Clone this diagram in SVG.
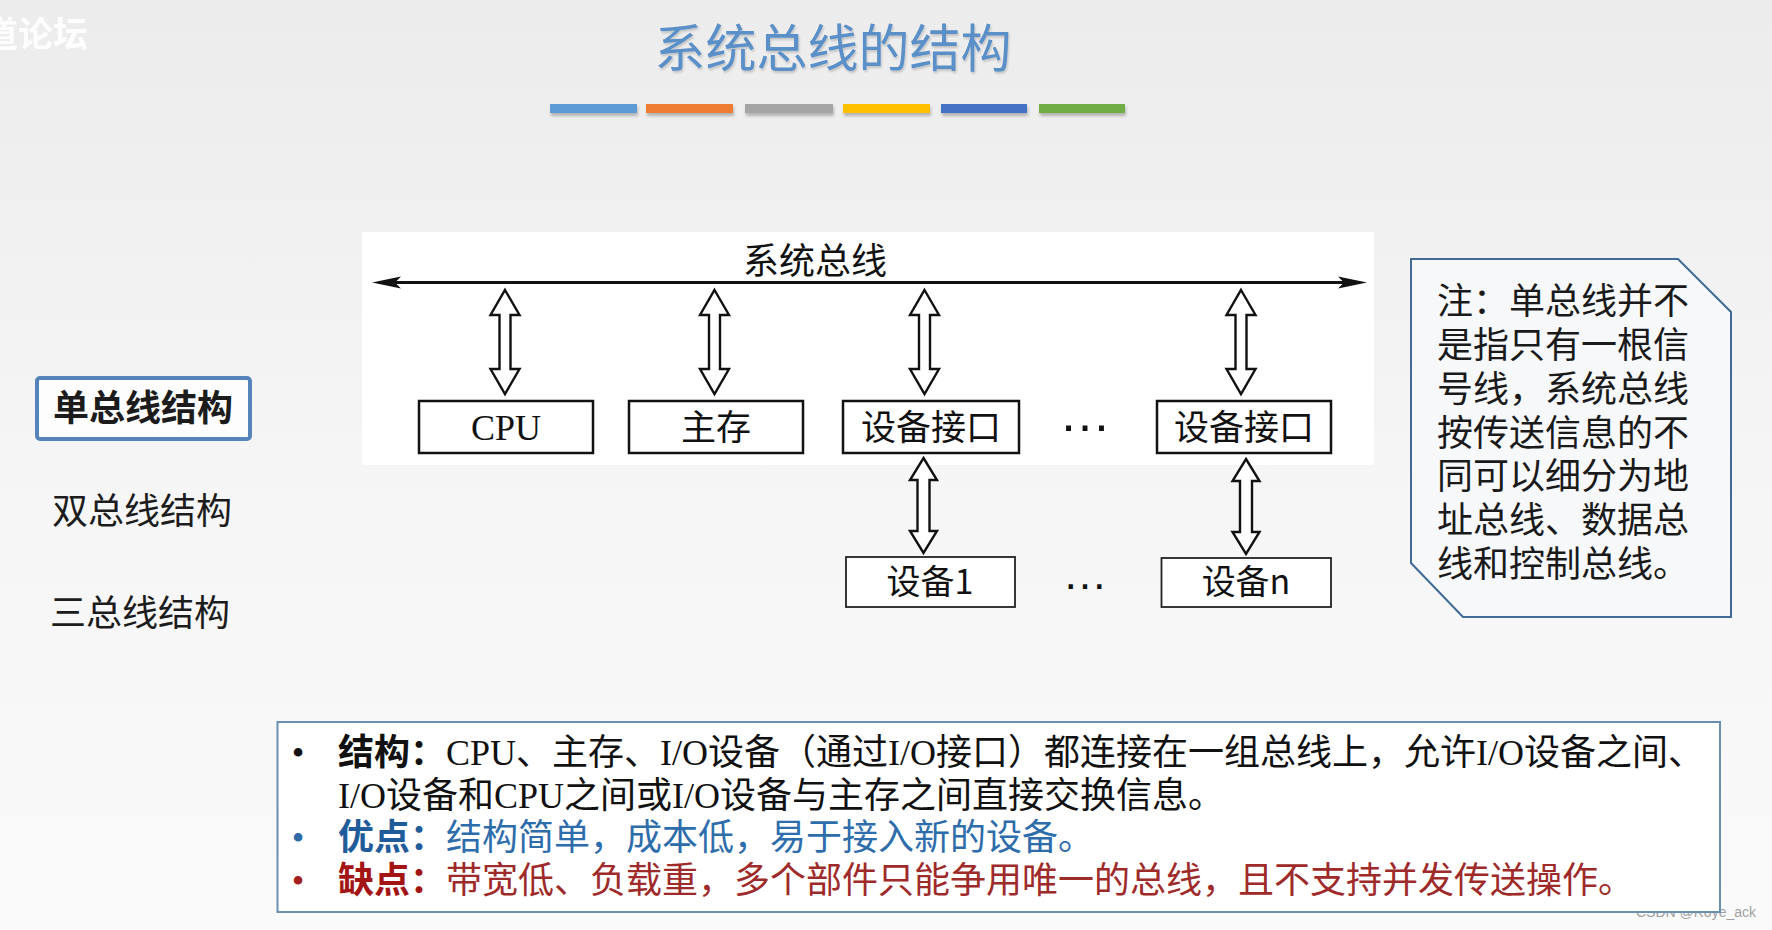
<svg xmlns="http://www.w3.org/2000/svg" width="1772" height="930" viewBox="0 0 1772 930">
<defs>
<linearGradient id="bg" x1="0" y1="0" x2="0" y2="1">
<stop offset="0" stop-color="#ececec"/>
<stop offset="0.55" stop-color="#f6f6f6"/>
<stop offset="1" stop-color="#fafafa"/>
</linearGradient>
<filter id="sh" x="-10%" y="-40%" width="120%" height="200%">
<feDropShadow dx="1" dy="3" stdDeviation="1.5" flood-color="#000" flood-opacity="0.25"/>
</filter>
<filter id="tsh" x="-5%" y="-20%" width="110%" height="140%">
<feDropShadow dx="1" dy="2" stdDeviation="1" flood-color="#000" flood-opacity="0.18"/>
</filter>
<path id="dblTop" d="M0,0 L14.5,25 L5.5,25 L5.5,79 L14.5,79 L0,104 L-14.5,79 L-5.5,79 L-5.5,25 L-14.5,25 Z"/>
<path id="dblLow" d="M0,0 L13.5,22 L6,22 L6,73 L13.5,73 L0,95 L-13.5,73 L-6,73 L-6,22 L-13.5,22 Z"/>
</defs>
<style>
.cjk{font-family:"Noto Sans CJK SC","Noto Sans",sans-serif}
.ser{font-family:"Liberation Serif","Noto Sans CJK SC",serif}
.lat{font-family:"Liberation Sans",Arial,sans-serif}
.box{fill:#ffffff;stroke:#111;stroke-width:2.5}
.box2{fill:#ffffff;stroke:#222;stroke-width:1.8}
.lbl{font-size:35px;fill:#111;text-anchor:middle}
.arr{fill:#ffffff;stroke:#111;stroke-width:2.4;stroke-linejoin:miter}
.menu{font-size:36px;fill:#1c1c1c}
.desc{font-size:36px}
</style>
<rect x="0" y="0" width="1772" height="930" fill="url(#bg)"/>

<g id="watermark">
<text class="cjk" x="-17" y="47" font-size="35" font-weight="bold" fill="#ffffff" opacity="0.9">道论坛</text>
<text class="lat" x="1756" y="917" font-size="14" fill="#a0a0a0" text-anchor="end">CSDN @Roye_ack</text>
</g>

<g id="title">
<text class="cjk" x="833" y="67" font-size="51" fill="#5a8fc8" text-anchor="middle" filter="url(#tsh)">系统总线的结构</text>
<g filter="url(#sh)">
<rect x="550" y="104" width="87" height="9" fill="#5b9bd5"/>
<rect x="646" y="104" width="87" height="9" fill="#ed7d31"/>
<rect x="745" y="104" width="88" height="9" fill="#a5a5a5"/>
<rect x="843" y="104" width="87" height="9" fill="#ffc000"/>
<rect x="941" y="104" width="86" height="9" fill="#4472c4"/>
<rect x="1039" y="104" width="86" height="9" fill="#70ad47"/>
</g>
</g>

<g id="menu">
<rect x="37" y="378" width="213" height="61" rx="3" fill="#fdfdfd" stroke="#5584bb" stroke-width="4"/>
<text class="cjk menu" x="53" y="421" font-weight="bold">单总线结构</text>
<text class="cjk menu" x="52" y="524">双总线结构</text>
<text class="cjk menu" x="50" y="626">三总线结构</text>
</g>

<rect id="panel" x="362" y="232" width="1012" height="233" fill="#ffffff"/>

<g id="bus-label">
<text class="cjk" x="815" y="274" font-size="36" fill="#111" text-anchor="middle">系统总线</text>
</g>

<g id="connectors">
<line x1="385" y1="282.5" x2="1354" y2="282.5" stroke="#111" stroke-width="3"/>
<path d="M372,282.5 L401,276.5 L395,282.5 L401,288.5 Z" fill="#111"/>
<path d="M1367,282.5 L1338,276.5 L1344,282.5 L1338,288.5 Z" fill="#111"/>
<use href="#dblTop" class="arr" transform="translate(505,290)"/>
<use href="#dblTop" class="arr" transform="translate(714.5,290)"/>
<use href="#dblTop" class="arr" transform="translate(924.5,290)"/>
<use href="#dblTop" class="arr" transform="translate(1241,290)"/>
<use href="#dblLow" class="arr" transform="translate(923.5,458)"/>
<use href="#dblLow" class="arr" transform="translate(1246,459)"/>
</g>

<g id="node-cpu">
<rect class="box" x="419" y="401" width="174" height="52"/>
<text class="ser" x="506" y="440" font-size="36" fill="#111" text-anchor="middle">CPU</text>
</g>
<g id="node-mem">
<rect class="box" x="629" y="401" width="174" height="52"/>
<text class="cjk lbl" x="716" y="440">主存</text>
</g>
<g id="node-if1">
<rect class="box" x="843" y="401" width="176" height="52"/>
<text class="cjk lbl" x="931" y="440">设备接口</text>
</g>
<g id="dots-top">
<text class="lat" x="1085" y="431" font-size="52" fill="#111" text-anchor="middle">…</text>
</g>
<g id="node-if2">
<rect class="box" x="1157" y="401" width="174" height="52"/>
<text class="cjk lbl" x="1244" y="440">设备接口</text>
</g>
<g id="node-dev1">
<rect class="box2" x="846" y="557" width="169" height="50"/>
<text class="cjk" x="930" y="594" font-size="34" fill="#111" text-anchor="middle">设备1</text>
</g>
<g id="dots-low">
<text class="lat" x="1085" y="589" font-size="45" fill="#111" text-anchor="middle">…</text>
</g>
<g id="node-devn">
<rect class="box2" x="1161.5" y="558" width="169.5" height="49"/>
<text class="cjk" x="1246" y="594" font-size="34" fill="#111" text-anchor="middle">设备n</text>
</g>

<g id="note">
<polygon points="1411,259 1678,259 1731,312 1731,617 1463,617 1411,563" fill="#f7f8fa" stroke="#3f6b95" stroke-width="2"/>
<text class="cjk" font-size="36" fill="#1a1a1a">
<tspan x="1437" y="314">注：单总线并不</tspan>
<tspan x="1437" y="358">是指只有一根信</tspan>
<tspan x="1437" y="402">号线，系统总线</tspan>
<tspan x="1437" y="446">按传送信息的不</tspan>
<tspan x="1437" y="489">同可以细分为地</tspan>
<tspan x="1437" y="533">址总线、数据总</tspan>
<tspan x="1437" y="577">线和控制总线。</tspan>
</text>
</g>

<g id="desc">
<rect x="277.5" y="722" width="1442.5" height="190" fill="#ffffff" stroke="#6a8fb0" stroke-width="2"/>
<text class="ser" x="298" y="765" font-size="36" fill="#111" text-anchor="middle">•</text>
<text class="ser" x="298" y="850" font-size="36" fill="#2d6aa6" text-anchor="middle">•</text>
<text class="ser" x="298" y="893" font-size="36" fill="#a3201f" text-anchor="middle">•</text>
<text class="ser desc" x="338" y="765" fill="#111"><tspan font-weight="bold">结构：</tspan>CPU、主存、I/O设备（通过I/O接口）都连接在一组总线上，允许I/O设备之间、</text>
<text class="ser desc" x="338" y="808" fill="#111">I/O设备和CPU之间或I/O设备与主存之间直接交换信息。</text>
<text class="ser desc" x="338" y="850" fill="#2e6dab"><tspan font-weight="bold" fill="#1f5c99">优点：</tspan>结构简单，成本低，易于接入新的设备。</text>
<text class="ser desc" x="338" y="893" fill="#9e2a2a"><tspan font-weight="bold" fill="#a31515">缺点：</tspan>带宽低、负载重，多个部件只能争用唯一的总线，且不支持并发传送操作。</text>
</g>
</svg>
